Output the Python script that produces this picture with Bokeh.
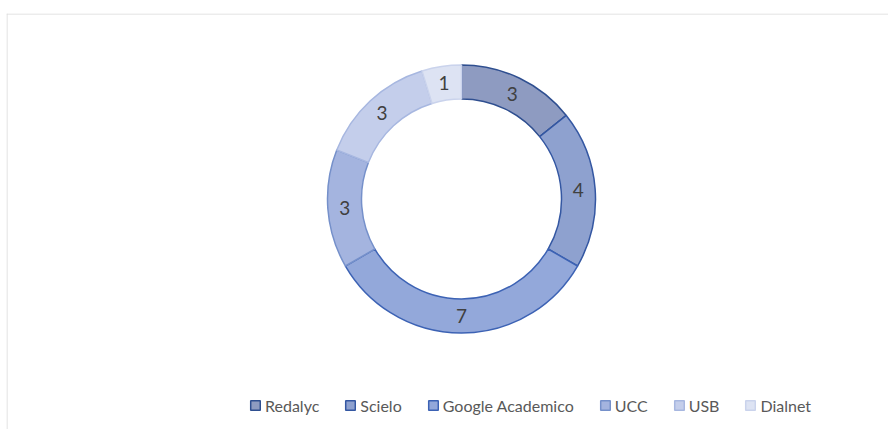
import numpy as np
from bokeh.plotting import figure
from bokeh.models import Range1d, Legend, LegendItem, ColumnDataSource, Span
from bokeh.core.properties import value
from bokeh.embed import file_html
from bokeh.resources import INLINE

# ---- data ----
sources = ["Redalyc", "Scielo", "Google Academico", "UCC", "USB", "Dialnet"]
counts = [3, 4, 7, 3, 3, 1]
fill_colors = ["#8e9bc1", "#8ea1cf", "#93a8da", "#a4b4df", "#c4ceeb", "#dde3f3"]
line_colors = ["#2f4f90", "#3457a2", "#3c62b4", "#7590ca", "#a7b7e0", "#cad3ec"]

# ---- geometry (layout, pixels in a 1:1 data space) ----
W, H = 888, 429
ML, MT = 6, 13
FW, FH = W - ML, H - MT
cx, cy = 455, 230.5
r_out, r_in = 134, 100

vals = np.array(counts, dtype=float)
total = vals.sum()
cum = np.concatenate([[0], np.cumsum(vals)])
start = np.pi / 2 - 2 * np.pi * cum[:-1] / total
end = np.pi / 2 - 2 * np.pi * cum[1:] / total
mid = (start + end) / 2
r_mid = (r_out + r_in) / 2

src = ColumnDataSource(dict(
    name=sources, count=counts, start=start, end=end,
    fill=fill_colors, line=line_colors,
    lx=cx + r_mid * np.cos(mid), ly=cy + r_mid * np.sin(mid),
    txt=[str(c) for c in counts],
))

p = figure(width=W, height=H, output_backend="svg", toolbar_location=None,
           x_range=Range1d(0, FW), y_range=Range1d(0, FH),
           x_axis_location=None, y_axis_location=None,
           min_border_top=MT, min_border_left=ML, min_border_right=0, min_border_bottom=0)
p.grid.visible = False
p.outline_line_color = None
p.background_fill_color = "white"
p.border_fill_color = "white"

p.add_layout(Span(location=FH - 0.5, dimension="width", line_color="#d9d9d9", line_width=1))
p.add_layout(Span(location=0.5, dimension="height", line_color="#d9d9d9", line_width=1))

r = p.annular_wedge(x=cx, y=cy, inner_radius=r_in, outer_radius=r_out,
                    start_angle="start", end_angle="end", direction="clock",
                    fill_color="fill", line_color="line", line_width=1.5,
                    source=src)

p.text(x="lx", y="ly", text="txt", source=src, text_align="center",
       text_baseline="middle", text_color="#404040",
       text_font=value("Lato"), text_font_size="19px")

items = [LegendItem(label=s, renderers=[r], index=i) for i, s in enumerate(sources)]
legend = Legend(items=items, orientation="horizontal", location=(243, 14),
                spacing=25, label_standoff=4, glyph_width=12, glyph_height=12,
                label_height=20, label_text_font="Lato", label_text_font_size="16px",
                label_text_color="#595959", padding=0, margin=0,
                border_line_alpha=0, background_fill_alpha=0)
p.add_layout(legend)

open("out.html", "w").write(file_html(p, INLINE))
